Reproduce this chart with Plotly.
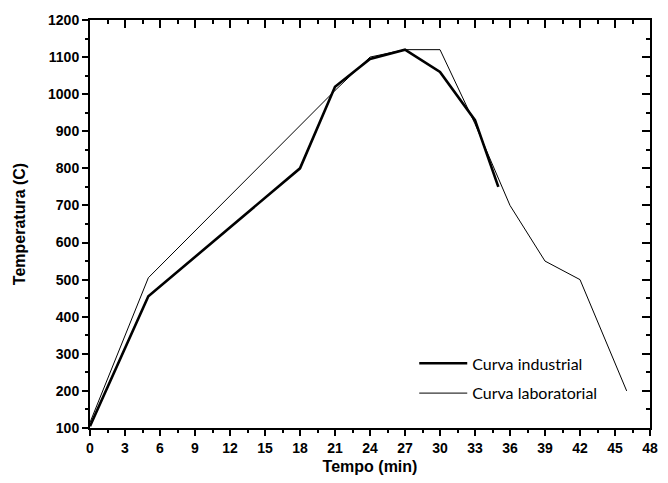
import plotly.graph_objects as go

# Data
ind_t = [0, 5, 18, 21, 24, 27, 30, 33, 35]
ind_temp = [105, 455, 800, 1020, 1095, 1120, 1060, 930, 750]

lab_t = [0, 5, 21, 24, 27, 30, 33, 36, 39, 42, 46]
lab_temp = [115, 505, 1010, 1100, 1120, 1120, 920, 700, 550, 500, 200]

x_ticks = list(range(0, 49, 3))
y_ticks = list(range(100, 1201, 100))

x_range = [0, 48]
y_range = [100, 1200]

fig = go.Figure()
fig.add_trace(go.Scatter(x=ind_t, y=ind_temp, mode="lines", name="Curva industrial",
                         line=dict(color="black", width=2.6), legendgroup="a"))
fig.add_trace(go.Scatter(x=lab_t, y=lab_temp, mode="lines", name="Curva laboratorial",
                         line=dict(color="black", width=1), legendgroup="b"))
# transparent trace carrying the top/right axes (inside ticks)
fig.add_trace(go.Scatter(x=ind_t, y=ind_temp, mode="lines", xaxis="x2", yaxis="y2",
                         line=dict(width=1, color="rgba(0,0,0,0)"), showlegend=False,
                         hoverinfo="skip"))

tickfont = dict(family="Liberation Sans", size=14, color="black")
titlefont = dict(family="Liberation Sans", size=16, color="black")

fig.update_layout(
    width=668, height=483,
    margin=dict(l=90, r=10, t=20, b=52),
    paper_bgcolor="white", plot_bgcolor="white",
    showlegend=True,
    legend=dict(x=0.579, y=0.2, xanchor="left", yanchor="top",
                font=dict(family="Lato", size=16, color="black"),
                bgcolor="rgba(0,0,0,0)", traceorder="grouped", tracegroupgap=6,
                itemwidth=48),
    xaxis=dict(range=x_range, tickmode="array", tickvals=x_ticks,
               ticktext=[f"<b>{v}</b>" for v in x_ticks],
               showline=True, linecolor="black", linewidth=2,
               ticks="outside", ticklen=6, tickwidth=2, tickcolor="black",
               minor=dict(tickmode="linear", tick0=0, dtick=1.5, ticks="outside", ticklen=3,
                          tickwidth=1.5, tickcolor="black"),
               showgrid=False, zeroline=False, tickfont=tickfont,
               title=dict(text="<b>Tempo (min)</b>", font=titlefont, standoff=6)),
    yaxis=dict(range=y_range, tickmode="array", tickvals=y_ticks,
               ticktext=[f"<b>{v}</b>" for v in y_ticks],
               showline=True, linecolor="black", linewidth=2,
               ticks="outside", ticklen=6, tickwidth=2, tickcolor="black",
               minor=dict(tickmode="linear", tick0=0, dtick=50, ticks="outside", ticklen=3,
                          tickwidth=1.5, tickcolor="black"),
               showgrid=False, zeroline=False, tickfont=tickfont,
               title=dict(text="<b>Temperatura (C)</b>", font=titlefont, standoff=18)),
    xaxis2=dict(range=x_range, tickmode="array", tickvals=x_ticks,
                overlaying="x", side="top", anchor="y2",
                showline=True, linecolor="black", linewidth=2,
                ticks="inside", ticklen=8, tickwidth=2, tickcolor="black",
                minor=dict(tickmode="linear", tick0=0, dtick=1.5, ticks="inside", ticklen=4,
                           tickwidth=1.5, tickcolor="black"),
                showticklabels=False, showgrid=False, zeroline=False),
    yaxis2=dict(range=y_range, tickmode="array", tickvals=y_ticks,
                overlaying="y", side="right", anchor="x2",
                showline=True, linecolor="black", linewidth=2,
                ticks="inside", ticklen=8, tickwidth=2, tickcolor="black",
                minor=dict(tickmode="linear", tick0=0, dtick=50, ticks="inside", ticklen=4,
                           tickwidth=1.5, tickcolor="black"),
                showticklabels=False, showgrid=False, zeroline=False),
)

fig.write_html("out.html")
